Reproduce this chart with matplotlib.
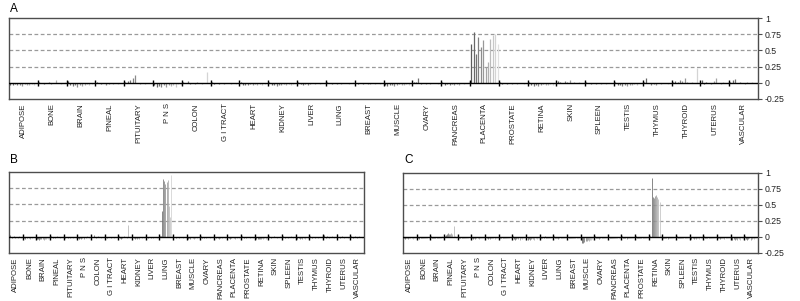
import numpy as np
import matplotlib
matplotlib.use("Agg")
import matplotlib.pyplot as plt
from matplotlib.colors import LinearSegmentedColormap

plt.rcParams['font.family'] = ['Liberation Sans', 'DejaVu Sans']

categories = ["ADIPOSE", "BONE", "BRAIN", "PINEAL", "PITUITARY", "P N S", "COLON",
              "G I TRACT", "HEART", "KIDNEY", "LIVER", "LUNG", "BREAST", "MUSCLE",
              "OVARY", "PANCREAS", "PLACENTA", "PROSTATE", "RETINA", "SKIN", "SPLEEN",
              "TESTIS", "THYMUS", "THYROID", "UTERUS", "VASCULAR"]

y_ticks = [-0.25, 0, 0.25, 0.5, 0.75, 1]
y_ticklabels = ["-0.25", "0", "0.25", "0.5", "0.75", "1"]

values_a = [
    [-0.03,-0.04,-0.02,-0.04,-0.03,-0.05,-0.02,-0.03,-0.04,-0.02,-0.03,-0.01],
    [0.02,-0.01,-0.02,-0.01,0.01,-0.02,-0.01,0.04,-0.01,-0.02,-0.01,0.01],
    [0.03,-0.03,-0.05,-0.04,-0.06,-0.03,-0.05,-0.04,-0.02,-0.03,-0.02,-0.01],
    [0.02,-0.01,-0.02,-0.01,-0.03,-0.02,-0.01,-0.02,-0.01,-0.02,-0.01,0.01],
    [0.02,0.03,0.05,0.07,0.12,-0.01,-0.02,-0.01,-0.02,-0.01,-0.01,0.01],
    [-0.03,-0.06,-0.05,-0.07,-0.04,-0.06,-0.03,-0.05,-0.04,-0.06,-0.02,-0.03],
    [0.02,-0.01,0.03,-0.02,-0.01,-0.02,0.01,-0.01,-0.02,-0.01,0.17,-0.01],
    [0.01,-0.02,-0.01,-0.02,-0.01,-0.02,-0.01,-0.01,-0.02,-0.01,-0.02,-0.01],
    [0.02,-0.03,-0.04,-0.03,-0.02,-0.03,-0.02,-0.03,-0.02,-0.03,-0.02,-0.01],
    [0.02,-0.04,-0.03,-0.05,-0.03,-0.04,-0.02,-0.03,-0.02,-0.03,-0.02,-0.01],
    [0.02,-0.02,-0.03,-0.02,-0.03,-0.02,-0.01,-0.02,-0.01,-0.02,-0.01,0.01],
    [0.01,-0.01,-0.02,-0.01,-0.02,-0.01,-0.02,-0.01,-0.01,-0.02,-0.01,0.02],
    [-0.01,-0.02,-0.01,-0.02,-0.01,-0.02,-0.02,-0.01,-0.02,-0.01,-0.02,-0.01],
    [-0.03,-0.05,-0.04,-0.03,-0.05,-0.04,-0.02,-0.03,-0.04,-0.02,-0.03,-0.01],
    [0.02,0.01,0.07,-0.02,-0.01,-0.02,-0.01,-0.02,-0.01,-0.01,-0.02,-0.01],
    [0.01,-0.03,-0.02,-0.03,-0.02,-0.03,-0.02,-0.03,-0.01,-0.02,-0.01,0.03],
    [0.60,0.79,0.45,0.70,0.55,0.66,0.25,0.32,0.68,0.73,0.75,0.60],
    [0.02,-0.02,-0.01,-0.02,-0.01,-0.02,-0.01,-0.02,-0.01,-0.01,-0.02,-0.01],
    [0.02,-0.04,-0.05,-0.03,-0.05,-0.04,-0.02,-0.04,-0.03,-0.02,-0.03,-0.01],
    [0.03,0.02,-0.01,0.03,0.01,0.05,-0.01,0.02,-0.01,0.01,-0.01,0.02],
    [0.02,-0.01,-0.02,-0.01,-0.02,-0.01,-0.02,-0.01,-0.02,-0.01,-0.01,-0.01],
    [0.02,-0.03,-0.04,-0.05,-0.04,-0.05,-0.03,-0.04,-0.02,-0.03,-0.01,0.02],
    [0.02,0.08,-0.01,-0.03,-0.02,-0.03,-0.01,-0.02,-0.01,-0.01,-0.02,-0.01],
    [0.02,0.03,0.02,0.04,0.03,0.08,0.02,-0.01,0.02,-0.01,0.23,-0.01],
    [0.04,-0.02,0.02,-0.01,-0.02,0.03,0.08,-0.01,-0.02,0.02,-0.01,0.01],
    [0.02,0.05,0.06,-0.01,0.02,-0.01,-0.02,0.01,-0.01,0.02,-0.01,-0.02],
]

values_b = [
    [0.03,-0.01,-0.02,-0.01,0.01,-0.02,-0.01,-0.02,0.02,-0.01,-0.02,-0.01],
    [0.02,-0.02,-0.03,-0.02,-0.01,-0.02,-0.03,-0.01,-0.02,-0.01,-0.02,-0.01],
    [-0.03,-0.04,-0.05,-0.04,-0.03,-0.04,-0.05,-0.03,-0.04,-0.02,-0.03,-0.02],
    [0.01,-0.01,-0.02,-0.01,-0.02,-0.01,0.01,-0.01,-0.02,-0.01,-0.01,0.01],
    [-0.01,-0.02,-0.01,-0.02,-0.01,-0.02,-0.01,-0.01,-0.02,-0.01,-0.02,-0.01],
    [-0.02,-0.03,-0.02,-0.04,-0.02,-0.03,-0.01,-0.02,0.02,-0.01,-0.02,-0.01],
    [0.02,-0.01,0.03,-0.01,-0.02,-0.01,0.01,-0.01,-0.02,-0.01,-0.01,0.01],
    [0.01,-0.01,-0.02,-0.01,-0.01,-0.02,-0.01,-0.01,-0.02,-0.01,-0.01,-0.01],
    [0.01,-0.02,-0.03,-0.02,-0.01,0.02,-0.01,-0.02,0.18,-0.01,-0.02,-0.01],
    [0.02,-0.02,-0.03,-0.02,-0.03,-0.02,-0.03,-0.01,-0.02,-0.01,-0.02,0.01],
    [0.01,-0.01,-0.02,-0.01,-0.02,-0.01,-0.02,-0.01,-0.01,-0.01,-0.02,0.01],
    [0.01,0.02,0.40,0.89,0.86,0.82,0.85,0.87,0.48,0.30,0.95,0.02],
    [0.03,-0.01,-0.02,-0.01,-0.01,-0.02,-0.01,-0.01,-0.02,-0.01,-0.01,-0.01],
    [-0.02,-0.03,-0.02,-0.03,-0.01,-0.02,-0.03,-0.02,-0.01,-0.02,-0.01,-0.01],
    [0.01,-0.02,-0.01,-0.02,-0.01,-0.02,-0.01,-0.01,-0.02,-0.01,-0.01,0.01],
    [-0.01,-0.02,-0.01,-0.02,-0.03,-0.02,-0.01,-0.02,-0.01,-0.02,-0.01,-0.01],
    [-0.01,-0.02,-0.03,-0.02,-0.01,-0.02,-0.03,-0.01,-0.02,-0.01,-0.02,-0.01],
    [0.01,-0.01,-0.02,-0.01,-0.02,-0.01,-0.01,-0.02,-0.01,-0.01,-0.02,-0.01],
    [-0.02,-0.04,-0.03,-0.04,-0.03,-0.04,-0.02,-0.03,-0.02,-0.03,-0.02,-0.01],
    [0.01,-0.01,-0.02,-0.01,0.02,-0.01,-0.01,-0.02,-0.01,-0.01,0.01,-0.01],
    [0.02,-0.01,-0.02,-0.01,-0.01,-0.02,-0.01,0.01,-0.01,-0.02,-0.01,-0.01],
    [-0.01,-0.03,-0.02,-0.03,-0.02,-0.03,-0.01,-0.02,-0.03,-0.01,-0.02,-0.01],
    [0.01,-0.01,-0.02,-0.01,-0.02,-0.01,-0.01,-0.02,-0.01,-0.01,-0.01,0.01],
    [0.03,-0.01,-0.02,0.01,-0.01,-0.02,-0.01,0.02,-0.01,-0.02,-0.01,-0.01],
    [0.04,-0.01,-0.02,-0.01,0.02,-0.01,-0.02,-0.01,-0.01,-0.02,-0.01,0.01],
    [0.02,-0.01,-0.02,-0.01,0.01,-0.02,-0.01,0.02,-0.01,-0.01,-0.02,-0.01],
]

values_c = [
    [-0.02,-0.03,-0.02,-0.01,-0.03,-0.02,-0.01,-0.02,-0.03,-0.01,-0.02,-0.01],
    [0.01,-0.02,-0.03,-0.02,-0.01,-0.02,-0.01,-0.02,-0.01,-0.02,-0.01,-0.01],
    [0.02,-0.01,-0.02,-0.01,-0.02,-0.01,-0.02,-0.01,-0.02,-0.01,0.02,-0.01],
    [0.02,0.03,0.04,0.07,0.05,0.04,0.06,0.05,0.17,0.02,-0.01,0.01],
    [-0.01,-0.02,-0.01,-0.02,-0.01,-0.02,-0.01,-0.01,-0.02,-0.01,-0.02,-0.01],
    [-0.01,-0.03,-0.02,-0.03,-0.01,-0.02,-0.03,-0.02,-0.01,-0.02,-0.01,-0.01],
    [0.01,-0.02,-0.03,-0.02,-0.03,-0.02,-0.01,-0.02,-0.03,-0.01,-0.02,-0.01],
    [-0.01,-0.02,-0.01,-0.02,-0.01,-0.01,-0.02,-0.01,-0.02,-0.01,-0.01,-0.01],
    [0.01,-0.03,-0.04,-0.03,-0.02,-0.03,-0.04,-0.02,-0.03,-0.02,-0.01,-0.01],
    [-0.02,-0.04,-0.03,-0.04,-0.03,-0.02,-0.03,-0.04,-0.02,-0.03,-0.01,-0.01],
    [0.02,-0.01,-0.02,-0.01,0.01,-0.02,-0.01,-0.02,-0.01,-0.01,-0.02,-0.01],
    [0.01,-0.02,-0.01,-0.02,-0.03,-0.02,-0.01,-0.02,-0.01,-0.02,-0.01,-0.01],
    [-0.01,-0.02,-0.01,-0.01,-0.02,-0.01,-0.02,-0.01,-0.01,-0.02,-0.01,-0.01],
    [-0.03,-0.09,-0.10,-0.08,-0.06,-0.07,-0.05,-0.06,-0.04,-0.05,-0.03,-0.02],
    [0.01,-0.02,-0.01,-0.02,-0.03,-0.02,-0.01,-0.02,-0.01,-0.02,-0.01,-0.01],
    [0.01,-0.01,-0.02,-0.01,-0.02,-0.01,-0.02,-0.01,-0.01,-0.02,-0.01,-0.01],
    [0.01,-0.02,-0.01,-0.02,-0.03,-0.02,-0.01,-0.02,-0.01,-0.02,-0.01,-0.01],
    [0.01,-0.02,-0.01,-0.02,-0.01,-0.02,-0.01,-0.02,-0.01,-0.02,-0.01,-0.02],
    [0.01,0.02,0.92,0.62,0.61,0.64,0.65,0.63,0.60,0.55,0.02,0.01],
    [-0.01,-0.02,-0.01,-0.02,-0.03,-0.02,-0.01,-0.02,-0.01,-0.02,-0.01,-0.01],
    [0.01,-0.01,-0.02,-0.01,-0.02,-0.01,-0.01,-0.02,-0.01,-0.01,-0.02,-0.01],
    [-0.01,-0.03,-0.02,-0.03,-0.02,-0.03,-0.01,-0.02,-0.03,-0.01,-0.02,-0.01],
    [0.01,-0.01,-0.02,-0.01,-0.02,-0.01,-0.01,-0.02,-0.01,-0.01,-0.01,0.01],
    [-0.01,-0.02,-0.03,-0.02,-0.01,-0.02,-0.03,-0.02,-0.01,-0.02,-0.01,-0.01],
    [-0.02,-0.04,-0.03,-0.04,-0.03,-0.04,-0.02,-0.03,-0.04,-0.02,-0.03,-0.01],
    [0.02,-0.03,-0.04,-0.03,-0.02,-0.04,-0.03,-0.02,-0.03,-0.02,-0.01,0.03],
]

panel_labels = ["A", "B", "C"]

gray_map = LinearSegmentedColormap.from_list("g", ["#5c5c5c", "#e0e0e0"])
frame_color = "#4d4d4d"

fig = plt.figure(figsize=(8.0, 3.01), dpi=100)
W, H = 800.0, 301.0

def make_axes(l, t, r, b):
    return fig.add_axes([l / W, 1 - b / H, (r - l) / W, (b - t) / H])

ax_a = make_axes(9, 18, 758, 99)
ax_b = make_axes(9, 172, 364, 253)
ax_c = make_axes(403, 173, 758, 253)


def draw_panel(ax, values, show_ylabels, bar_lw):
    n_cat = len(categories)
    for i, vals in enumerate(values):
        n = len(vals)
        xs = i + (np.arange(n) + 0.5) / n
        cols = [gray_map(j / (n - 1)) for j in range(n)]
        ax.vlines(xs, 0, vals, colors=cols, linewidth=bar_lw, zorder=3)
    ax.set_xlim(0, n_cat)
    ax.set_ylim(-0.25, 1)
    for yv in y_ticks[2:-1]:
        ax.axhline(yv, color="#9a9a9a", linewidth=0.9, linestyle=(0, (3, 2)), zorder=1)
    ax.axhline(0, color="black", linewidth=1.0, zorder=4)
    ax.vlines(np.arange(1, n_cat), -0.05, 0.05, colors="black", linewidth=1.0, zorder=5)
    ax.set_xticks(np.arange(n_cat) + 0.5)
    ax.set_xticklabels(categories, rotation=90, fontsize=5.6, color="#222222")
    ax.tick_params(axis="x", length=0, pad=3)
    ax.yaxis.tick_right()
    if show_ylabels:
        ax.set_yticks(y_ticks)
        ax.set_yticklabels(y_ticklabels, fontsize=6.3, color="#222222")
        ax.tick_params(axis="y", length=3, width=0.8, color=frame_color, pad=2)
    else:
        ax.set_yticks([])
    for s in ax.spines.values():
        s.set_color(frame_color)
        s.set_linewidth(1.0)


draw_panel(ax_a, values_a, True, 0.9)
draw_panel(ax_b, values_b, False, 0.6)
draw_panel(ax_c, values_c, True, 0.6)

fig.text(10 / W, 1 - 9 / H, panel_labels[0], fontsize=8.5, va="center", ha="left")
fig.text(10 / W, 1 - 160 / H, panel_labels[1], fontsize=8.5, va="center", ha="left")
fig.text(404 / W, 1 - 160 / H, panel_labels[2], fontsize=8.5, va="center", ha="left")

fig.savefig("out.png", dpi=100)
